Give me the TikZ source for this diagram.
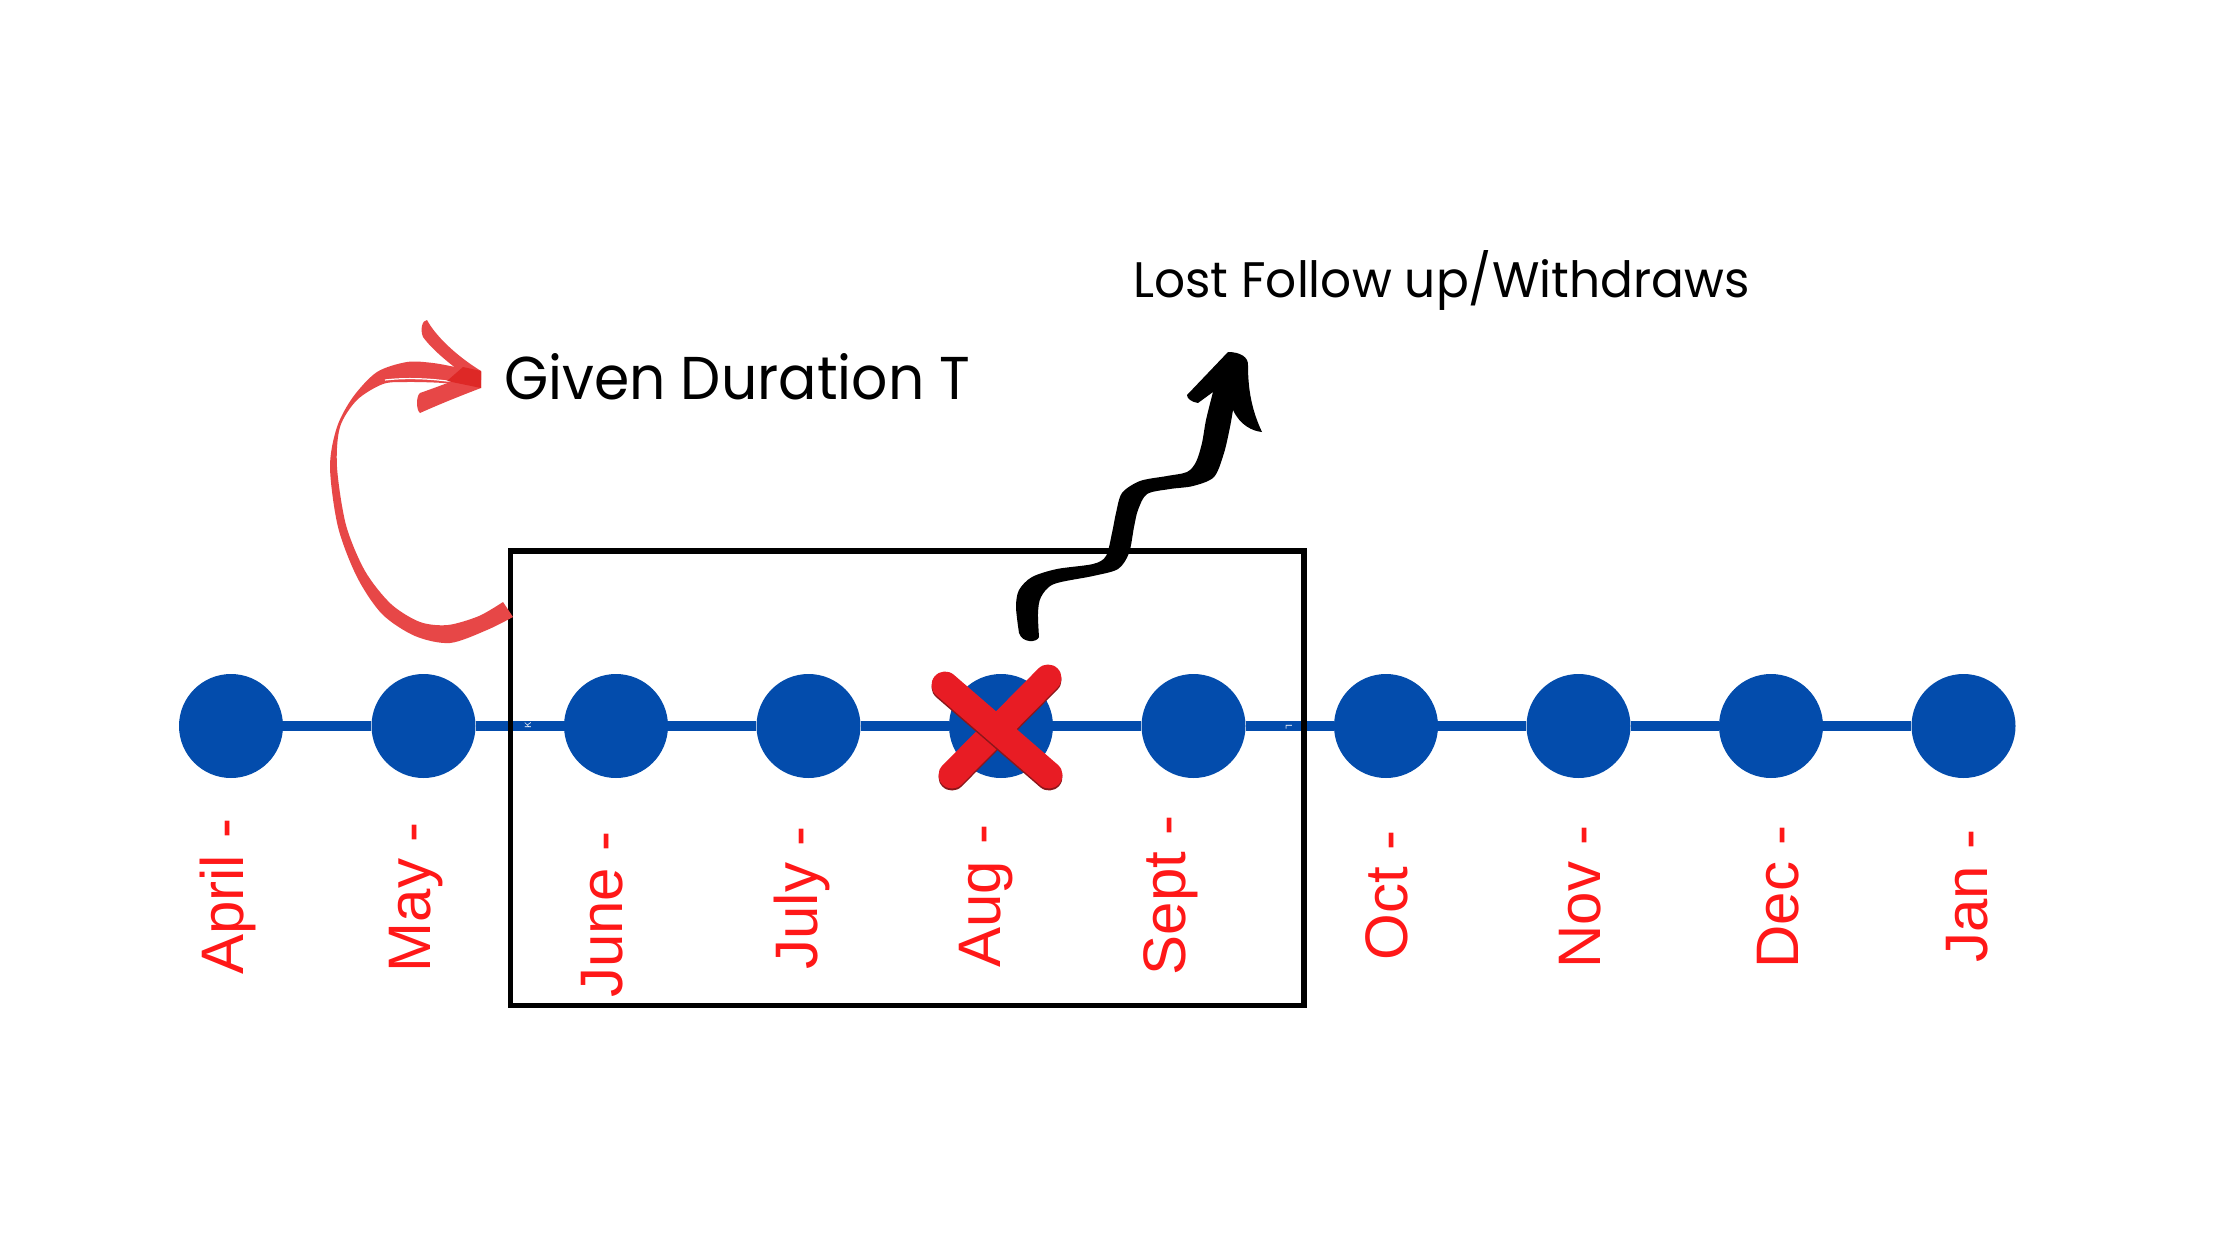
\documentclass[tikz,border=0pt]{standalone}
\usepackage{fontspec}
\usepackage{graphicx}
\newfontfamily\titlefont{Poppins}
\newfontfamily\monthfont{Liberation Sans}
\definecolor{dotblue}{RGB}{3,76,172}
\definecolor{monthred}{RGB}{255,24,24}
\definecolor{arrowred}{RGB}{231,71,71}
\definecolor{arrowdark}{RGB}{222,40,38}
\definecolor{xred}{RGB}{232,28,36}
\definecolor{xdark}{RGB}{140,22,26}
\begin{document}
\begin{tikzpicture}[x=1pt,y=-1pt,
  dot/.style={circle,fill=dotblue,minimum size=104pt,inner sep=0pt},
  tline/.style={draw=dotblue,line width=10pt},
  month/.style={font=\monthfont\fontsize{60}{60}\selectfont,text=monthred,rotate=90,anchor=base east,inner sep=0pt},
  title/.style={font=\titlefont,text=black,anchor=base west,inner sep=0pt},
  window/.style={draw=black,line width=5.5pt,minimum width=793.5pt,minimum height=454.5pt,inner sep=0pt},
  xstroke/.style={draw=xred,line width=27pt,line cap=round},
  xshade/.style={draw=xdark,line width=27pt,line cap=round},
  tinymark/.style={text=white,font=\sffamily\fontsize{9}{9}\selectfont,inner sep=0pt}]
\useasboundingbox[fill=white] (0,0) rectangle (2240,1260);

% timeline dots
\foreach \i in {0,...,9}{
  \node[dot] (m\i) at ({231+192.5*\i},726) {};
}
\foreach \i [evaluate=\i as \j using int(\i+1)] in {0,...,8}{
  \draw[tline] (m\i) -- (m\j);
}

% window rectangle
\node[window] (win) at (907.25,778.25) {};

% month labels
\node[month] (lapr) at (243,818) {April -};
\node[month] (lmay) at (430,822) {May -};
\node[month] (ljun) at (622,831) {June -};
\node[month] (ljul) at (817,826) {July -};
\node[month] (laug) at (1000,824) {Aug -};
\node[month] (lsep) at (1185,815) {Sept -};
\node[month] (loct) at (1407,830) {Oct -};
\node[month] (lnov) at (1600,825) {Nov -};
\node[month] (ldec) at (1798,825) {Dec -};
\node[month] (ljan) at (1987,829) {Jan -};

% titles
\node[title] (given) at (504,399) {\resizebox{466pt}{46pt}{Given Duration T}};
\node[title] (lost) at (1133,297) {\resizebox{616pt}{47pt}{Lost Follow up/Withdraws}};

% red curved arrow
\fill[arrowred] plot[smooth] coordinates {(513,617) (487,630) (450,643) (415,636) (382,614) (357,577) (338,527) (330,467) (337,427) (353,397) (377,372) (407,362) (433,363) (460,368) (478,372)}
  -- (478,388)
  -- plot[smooth] coordinates {(473,387) (443,383) (407,382) (383,384) (357,400) (340,427) (337,467) (346,525) (365,571) (391,604) (420,622) (448,625) (479,616) (503,602)}
  -- cycle;
\draw[white,line width=1.2pt] (385,380) .. controls (410,377) and (440,379) .. (465,384);
\fill[arrowred] (427,320) .. controls (435,335) and (455,355) .. (481,371) -- (481,380) -- (457,369) .. controls (445,360) and (430,347) .. (423,337) .. controls (420,330) and (422,320) .. (427,320) -- cycle;
\fill[arrowred] (420,393) .. controls (440,386) and (460,378) .. (481,372) -- (481,388) .. controls (460,396) and (440,404) .. (420,413) .. controls (416,410) and (416,396) .. (420,393) -- cycle;
\fill[arrowdark] (463,367) -- (481,371) -- (481,388) -- (447,381) -- cycle;

% black squiggly arrow
\fill[black] plot[smooth] coordinates {(1019,633) (1016,607) (1019,590) (1032,577) (1057,569) (1093,564) (1106,556) (1112,533) (1116,513) (1122,493) (1140,481) (1167,476) (1187,472) (1196,462) (1202,443) (1206,420) (1213,392)}
  -- (1198,403) .. controls (1192,402) and (1187,399) .. (1187,395) -- (1228,352)
  .. controls (1240,352) and (1249,357) .. (1248,366)
  .. controls (1248,395) and (1254,415) .. (1262,432)
  .. controls (1252,431) and (1240,425) .. (1233,410)
  -- plot[smooth] coordinates {(1233,410) (1230,427) (1224,453) (1214,477) (1193,486) (1170,489) (1147,494) (1138,510) (1134,527) (1129,553) (1118,569) (1093,576) (1054,584) (1041,597) (1038,613) (1039,637)}
  .. controls (1037,643) and (1022,643) .. (1019,633) -- cycle;

% red cross over August
\coordinate (xa1) at (945,685);
\coordinate (xa2) at (1049,775);
\coordinate (xb1) at (1048,678);
\coordinate (xb2) at (952,775);
\draw[xshade] ([yshift=-2pt]xb1) -- ([yshift=-2pt]xb2);
\draw[xstroke] (xb1) -- (xb2);
\draw[xshade] ([yshift=-2pt]xa1) -- ([yshift=-2pt]xa2);
\draw[xstroke] (xa1) -- (xa2);

% tiny marks
\node[tinymark,rotate=90] (mk1) at (528,725) {K};
\node[tinymark,rotate=-90] (mk2) at (1289,727) {L};
\end{tikzpicture}
\end{document}
